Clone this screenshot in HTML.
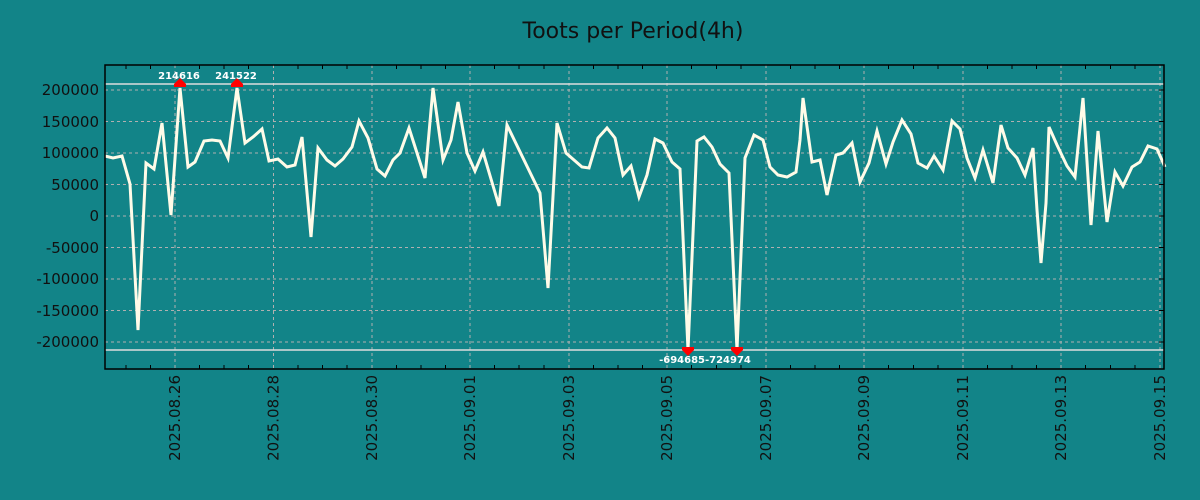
<!DOCTYPE html>
<html><head><meta charset="utf-8"><style>
body{margin:0;background:#128488;}
svg{display:block}
text{font-family:"DejaVu Sans","Liberation Sans",sans-serif;}
</style></head><body>
<svg width="1200" height="500" xmlns="http://www.w3.org/2000/svg">
<rect width="1200" height="500" fill="#128488"/>
<text x="633" y="38" font-size="22" text-anchor="middle" fill="#111">Toots per Period(4h)</text>
<g stroke="#b0b0b0" stroke-dasharray="3,3" stroke-width="1">
<line x1="105" x2="1164" y1="90" y2="90"/><line x1="105" x2="1164" y1="121.5" y2="121.5"/><line x1="105" x2="1164" y1="153" y2="153"/><line x1="105" x2="1164" y1="184.5" y2="184.5"/><line x1="105" x2="1164" y1="216" y2="216"/><line x1="105" x2="1164" y1="247.5" y2="247.5"/><line x1="105" x2="1164" y1="279" y2="279"/><line x1="105" x2="1164" y1="310.5" y2="310.5"/><line x1="105" x2="1164" y1="342" y2="342"/>
<line y1="65" y2="369" x1="175" x2="175"/><line y1="65" y2="369" x1="273.5" x2="273.5"/><line y1="65" y2="369" x1="372" x2="372"/><line y1="65" y2="369" x1="470" x2="470"/><line y1="65" y2="369" x1="569" x2="569"/><line y1="65" y2="369" x1="667" x2="667"/><line y1="65" y2="369" x1="766" x2="766"/><line y1="65" y2="369" x1="864" x2="864"/><line y1="65" y2="369" x1="963" x2="963"/><line y1="65" y2="369" x1="1061" x2="1061"/><line y1="65" y2="369" x1="1160" x2="1160"/>
</g>
<g stroke="#000" stroke-width="1">
<path d="M126,65v4M150.5,65v4M199.5,65v4M224,65v4M248.5,65v4M298,65v4M322.5,65v4M347,65v4M396.5,65v4M421,65v4M445.5,65v4M494.5,65v4M519,65v4M544,65v4M593.5,65v4M618,65v4M642.5,65v4M691.5,65v4M716.5,65v4M741,65v4M790.5,65v4M815,65v4M839.5,65v4M888.5,65v4M913.5,65v4M938,65v4M987.5,65v4M1012,65v4M1036.5,65v4M1085.5,65v4M1110.5,65v4M1135,65v4"/>
<path d="M126,369v-4M150.5,369v-4M199.5,369v-4M224,369v-4M248.5,369v-4M298,369v-4M322.5,369v-4M347,369v-4M396.5,369v-4M421,369v-4M445.5,369v-4M494.5,369v-4M519,369v-4M544,369v-4M593.5,369v-4M618,369v-4M642.5,369v-4M691.5,369v-4M716.5,369v-4M741,369v-4M790.5,369v-4M815,369v-4M839.5,369v-4M888.5,369v-4M913.5,369v-4M938,369v-4M987.5,369v-4M1012,369v-4M1036.5,369v-4M1085.5,369v-4M1110.5,369v-4M1135,369v-4"/>
<path d="M1164,90h-5M1164,121.5h-5M1164,153h-5M1164,184.5h-5M1164,216h-5M1164,247.5h-5M1164,279h-5M1164,310.5h-5M1164,342h-5"/>
</g>
<line x1="105" x2="1164" y1="84" y2="84" stroke="#ddd" stroke-width="1.5"/>
<line x1="105" x2="1164" y1="350" y2="350" stroke="#ddd" stroke-width="1.5"/>
<polyline fill="none" stroke="#fffbe8" stroke-width="3" stroke-linejoin="miter" points="105,156 113,158 122,156 130,184 138,330 146,163 154,169 162,123 171,215 180,88 188,167 195,162 204,141 212,140 220,141 228,158 237,88 245,143 253,137 262,129 269,161 278,159 287,167 295,165 302,137 311,237 318,148 327,160 335,166 343,159 352,147 359,121 368,138 377,169 385,176 393,160 400,153 409,128 425,178 433,88 443,160 451,140 458,102 467,153 475,171 483,152 499,206 507,125 540,193 548,288 557,123 566,153 582,167 589,168 598,138 607,128 615,138 623,175 631,166 639,197 647,175 655,139 663,143 672,162 680,169 688,350 697,141 704,137 712,147 720,164 729,173 737,350 745,158 754,135 763,140 770,167 778,175 787,177 796,172 800,140 803,98 812,162 820,160 827,195 836,155 843,153 852,143 860,182 869,163 877,131 886,164 893,142 902,120 911,134 918,163 927,168 934,156 943,170 952,121 960,129 967,158 975,178 983,150 993,183 1001,125 1008,148 1017,158 1025,175 1033,148 1037,210 1041,263 1046,203 1049,127 1057,145 1067,166 1075,177 1083,98 1091,225 1098,131 1107,222 1115,172 1123,186 1132,167 1140,162 1148,146 1157,149 1165,167"/>
<g fill="#f00">
<polygon points="174,84 186,84 180,78"/><rect x="174" y="84" width="12" height="3"/>
<polygon points="231,84 243,84 237,78"/><rect x="231" y="84" width="12" height="3"/>
<polygon points="682,350 694,350 688,356"/><rect x="682" y="347" width="12" height="3"/>
<polygon points="731,350 743,350 737,356"/><rect x="731" y="347" width="12" height="3"/>
</g>
<g fill="#fff" font-size="10" font-weight="bold">
<text x="179" y="79" text-anchor="middle">214616</text>
<text x="236" y="79" text-anchor="middle">241522</text>
<text x="705" y="363" text-anchor="middle">-694685-724974</text>
</g>
<rect x="105" y="65" width="1059" height="304" fill="none" stroke="#000" stroke-width="1.5"/>
<g fill="#111" font-size="15" text-anchor="end">
<text x="99" y="95">200000</text><text x="99" y="127">150000</text><text x="99" y="158">100000</text><text x="99" y="190">50000</text><text x="99" y="221">0</text><text x="99" y="253">-50000</text><text x="99" y="284">-100000</text><text x="99" y="316">-150000</text><text x="99" y="347">-200000</text>
</g>
<g fill="#111" font-size="15" text-anchor="end">
<text transform="translate(180,375) rotate(-90)">2025.08.26</text>
<text transform="translate(278.5,375) rotate(-90)">2025.08.28</text>
<text transform="translate(377,375) rotate(-90)">2025.08.30</text>
<text transform="translate(475,375) rotate(-90)">2025.09.01</text>
<text transform="translate(574,375) rotate(-90)">2025.09.03</text>
<text transform="translate(672,375) rotate(-90)">2025.09.05</text>
<text transform="translate(771,375) rotate(-90)">2025.09.07</text>
<text transform="translate(869,375) rotate(-90)">2025.09.09</text>
<text transform="translate(968,375) rotate(-90)">2025.09.11</text>
<text transform="translate(1066,375) rotate(-90)">2025.09.13</text>
<text transform="translate(1165,375) rotate(-90)">2025.09.15</text>
</g>
</svg>
</body></html>
